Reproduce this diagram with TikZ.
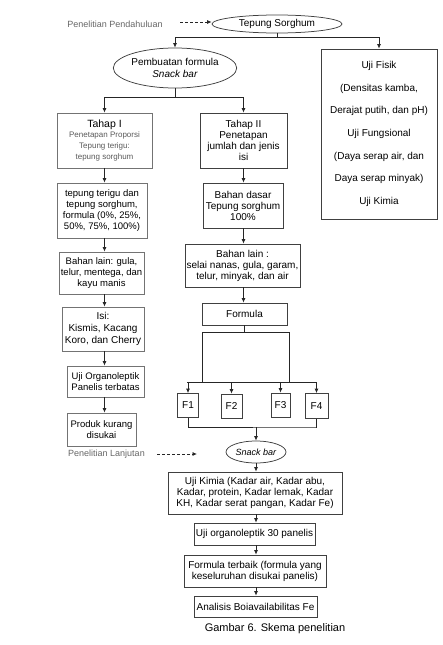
\documentclass[tikz,border=0pt]{standalone}
\usepackage{fontspec}
\setmainfont{Liberation Sans}
\usetikzlibrary{arrows.meta,shapes.geometric}
\begin{document}
\begin{tikzpicture}[x=1pt,y=-1pt,
  box/.style={draw=black!75,line width=0.75pt,align=center,inner sep=0pt,font=\fontsize{10}{11}\selectfont},
  lbox/.style={box,draw=black!55,font=\fontsize{9.5}{11}\selectfont},
  oval/.style={draw=black!75,line width=0.75pt,ellipse,inner sep=0pt,align=center,font=\fontsize{10}{11.5}\selectfont},
  conn/.style={line width=0.75pt,draw=black!85},
  arr/.style={conn,-{Latex[length=4.5pt,width=4pt]}},
  dasharr/.style={arr,dash pattern=on 3pt off 2pt},
  note/.style={font=\fontsize{9}{10}\selectfont,text=black!60,inner sep=0pt}]
\useasboundingbox (0,0) rectangle (443,645);

% top
\node[note] (pend) at (115,24) {Penelitian Pendahuluan};
\node[oval,minimum width=130pt,minimum height=18pt] (ts) at (277,24) {Tepung Sorghum};
\node[oval,minimum width=120pt,minimum height=40pt] (pf) at (175,68) {Pembuatan formula\\\textit{Snack bar}};
\node[box,minimum width=116pt,minimum height=170pt,font=\fontsize{10}{22.7}\selectfont] (uf) at (379,134)
  {Uji Fisik\\(Densitas kamba,\\Derajat putih, dan pH)\\Uji Fungsional\\(Daya serap air, dan\\Daya serap minyak)\\Uji Kimia};

% left column
\node[lbox,minimum width=95pt,minimum height=55pt,font=\fontsize{10.5}{11}\selectfont] (t1) at (104.5,140.5)
  {Tahap I\\[-1pt]\fontsize{8}{9.5}\selectfont\color{black!65}Penetapan Proporsi\\\fontsize{8}{9.5}\selectfont\color{black!65}Tepung terigu:\\\fontsize{8}{9.5}\selectfont\color{black!65}tepung sorghum};
\node[lbox,minimum width=90pt,minimum height=55pt] (b2) at (102,210.5)
  {tepung terigu dan\\tepung sorghum,\\formula (0\%, 25\%,\\50\%, 75\%, 100\%)};
\node[lbox,minimum width=85pt,minimum height=42pt] (b3) at (101.5,273)
  {Bahan lain: gula,\\telur, mentega, dan\\kayu manis};
\node[lbox,minimum width=82pt,minimum height=44pt,font=\fontsize{10}{12}\selectfont] (isi) at (103,329)
  {Isi:\\Kismis, Kacang\\Koro, dan Cherry};
\node[lbox,minimum width=77pt,minimum height=31pt] (uo) at (105.5,381.5)
  {Uji Organoleptik\\Panelis terbatas};
\node[lbox,minimum width=69pt,minimum height=33pt] (pk) at (101.5,429.5)
  {Produk kurang\\disukai};

% middle column
\node[box,minimum width=87pt,minimum height=55pt,font=\fontsize{10}{11}\selectfont] (t2) at (243.5,140.5)
  {Tahap II\\Penetapan\\jumlah dan jenis\\isi};
\node[box,minimum width=80pt,minimum height=45pt] (bd) at (243,205.5)
  {Bahan dasar\\Tepung sorghum\\100\%};
\node[box,minimum width=115pt,minimum height=43pt] (bl) at (242.5,265.5)
  {Bahan lain :\\selai nanas, gula, garam,\\telur, minyak, dan air};
\node[box,minimum width=85pt,minimum height=22pt] (fm) at (244.5,314) {Formula};

\node[box,minimum width=21pt,minimum height=24pt] (f1) at (188,405.5) {F1};
\node[box,minimum width=21pt,minimum height=24pt] (f2) at (231.5,406) {F2};
\node[box,minimum width=19pt,minimum height=24pt] (f3) at (280.5,405) {F3};
\node[box,minimum width=23pt,minimum height=25pt] (f4) at (316.5,406) {F4};

\node[oval,minimum width=60pt,minimum height=22pt,font=\fontsize{9}{11}\selectfont] (sb) at (256,452) {\textit{Snack bar}};
\node[note] (plj) at (106.5,454) {Penelitian Lanjutan};

\node[box,minimum width=174pt,minimum height=42pt] (uk) at (255,493)
  {Uji Kimia (Kadar air, Kadar abu,\\Kadar, protein, Kadar lemak, Kadar\\KH, Kadar serat pangan, Kadar Fe)};
\node[box,minimum width=121pt,minimum height=22pt] (u30) at (254.5,534) {Uji organoleptik 30 panelis};
\node[box,minimum width=142pt,minimum height=32pt] (ft) at (255,571)
  {Formula terbaik (formula yang\\keseluruhan disukai panelis)};
\node[box,minimum width=123pt,minimum height=21pt] (an) at (255.5,606.5) {Analisis Boiavailabilitas Fe};
\node[font=\fontsize{11}{12}\selectfont,inner sep=0pt] (cap) at (275,629) {Gambar 6. Skema penelitian};

% coordinates
\coordinate (d1) at (180,22);
\coordinate (d2) at (157,454);
\coordinate (d3) at (197,454);
\coordinate (j1) at (277,37);
\coordinate (j2) at (175,97);
\coordinate (j3) at (244.5,332);
\coordinate (c1) at (202,332);
\coordinate (c2) at (289,332);
\coordinate (c3) at (202,382);
\coordinate (c4) at (289,382);
\coordinate (j4) at (187,382);
\coordinate (j5) at (317,382);
\coordinate (j6) at (187,427);
\coordinate (j7) at (316,427);
\coordinate (j8) at (256,427);

% connectors
\draw[dasharr] (d1) -- (ts.west |- d1);
\draw[dasharr] (d2) -- (d3);
\draw[conn] (ts.south) -- (j1);
\draw[conn] (pf.north |- j1) -- (uf.north |- j1);
\draw[arr] (pf.north |- j1) -- (pf.north);
\draw[arr] (uf.north |- j1) -- (uf.north);
\draw[conn] (pf.south) -- (j2);
\draw[conn] (t1.north |- j2) -- (t2.north |- j2);
\draw[arr] (t1.north |- j2) -- (t1.north);
\draw[arr] (t2.north |- j2) -- (t2.north);

\draw[arr] (t1.south) -- (t1.south |- b2.north);
\draw[arr] (t1.south |- b2.south) -- (t1.south |- b3.north);
\draw[arr] (t1.south |- b3.south) -- (t1.south |- isi.north);
\draw[arr] (t1.south |- isi.south) -- (t1.south |- uo.north);
\draw[arr] (t1.south |- uo.south) -- (t1.south |- pk.north);

\draw[arr] (t2.south) -- (t2.south |- bd.north);
\draw[arr] (t2.south |- bd.south) -- (t2.south |- bl.north);
\draw[arr] (t2.south |- bl.south) -- (t2.south |- fm.north);

\draw[conn] (fm.south) -- (j3);
\draw[conn] (c3) -- (c1) -- (c2) -- (c4);
\draw[conn] (j4) -- (j5);
\draw[arr] (f1.north |- j4) -- (f1.north);
\draw[arr] (f2.north |- j4) -- (f2.north);
\draw[arr] (f3.north |- j4) -- (f3.north);
\draw[arr] (f4.north |- j4) -- (f4.north);

\draw[conn] (f1.south) -- (f1.south |- j6) -- (j7) -- (f4.south |- j7) -- (f4.south);
\draw[arr] (j8) -- (sb.north);

\draw[arr] (sb.south) -- (sb.south |- uk.north);
\draw[arr] (sb.south |- uk.south) -- (sb.south |- u30.north);
\draw[arr] (sb.south |- u30.south) -- (sb.south |- ft.north);
\draw[arr] (sb.south |- ft.south) -- (sb.south |- an.north);
\end{tikzpicture}
\end{document}
